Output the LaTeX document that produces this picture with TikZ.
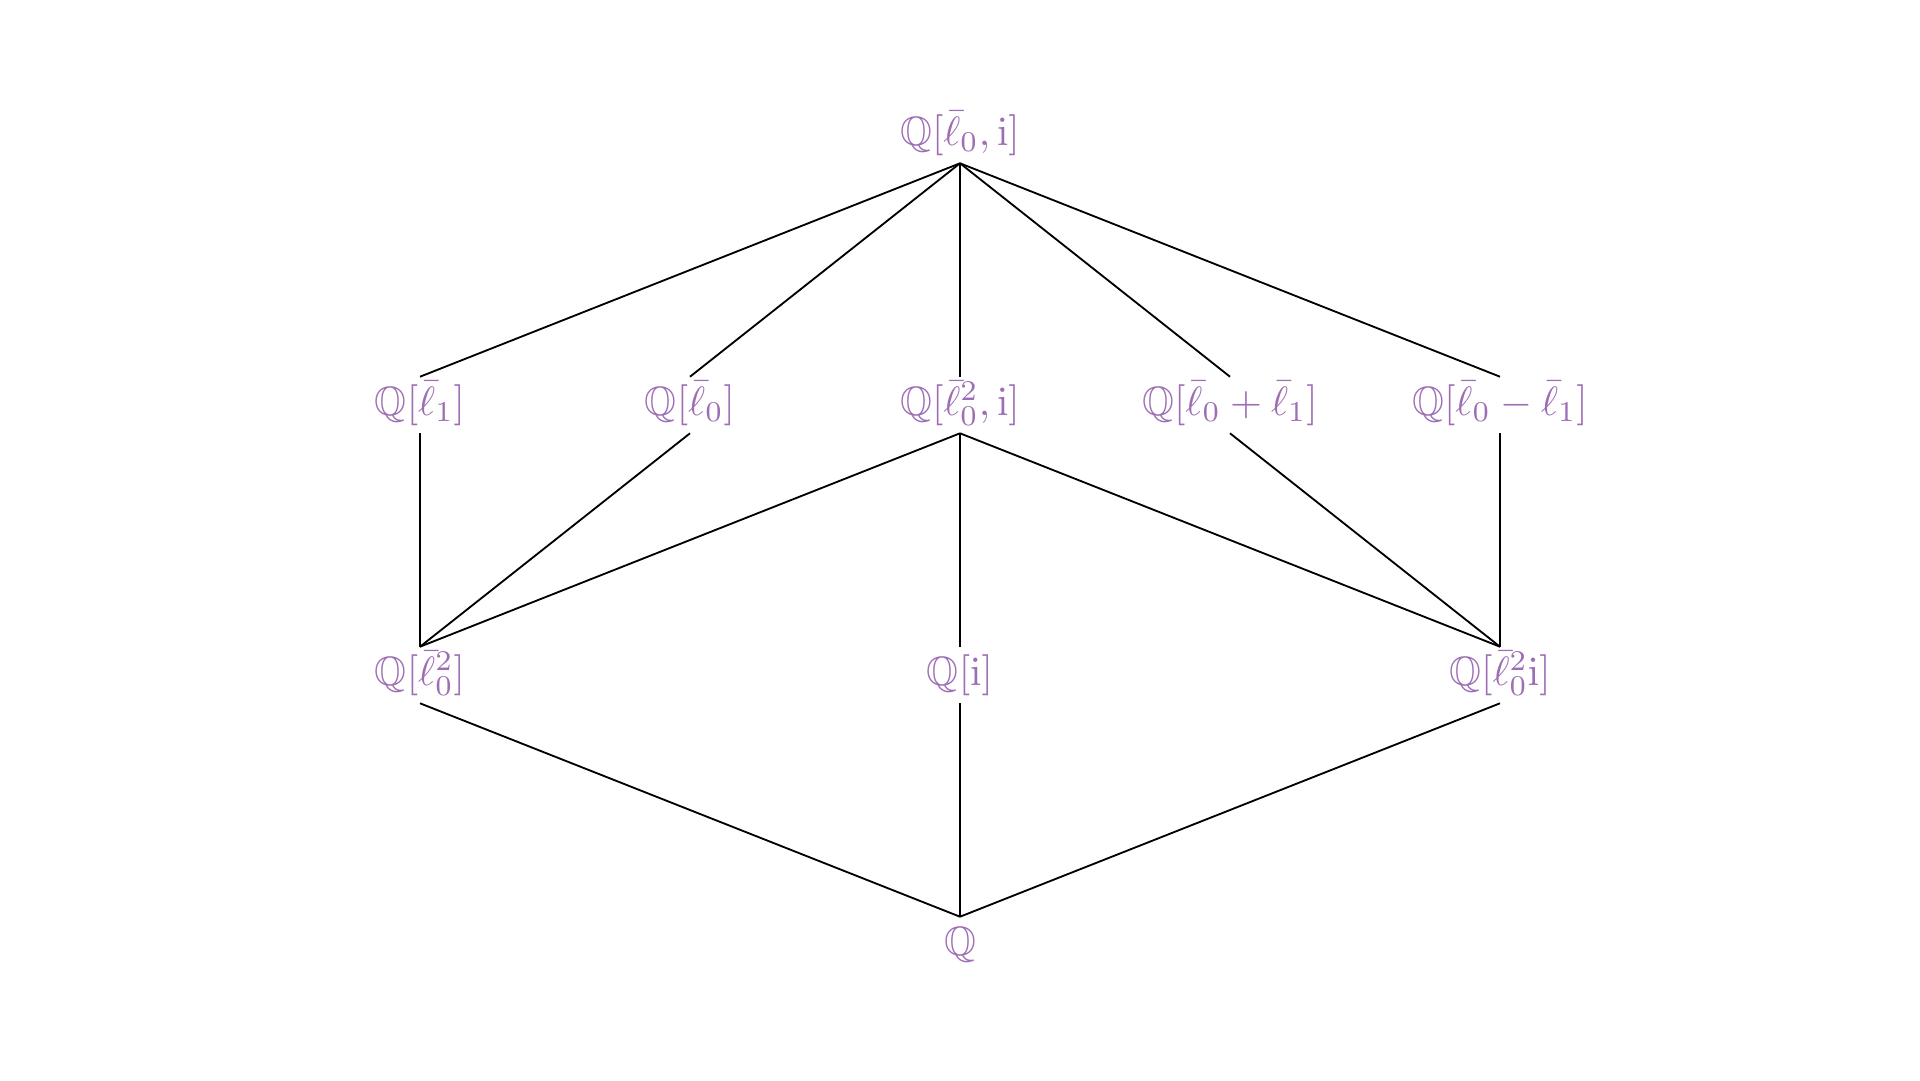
\documentclass[tikz,border=0pt]{standalone}
\usepackage{amsmath,amssymb}
\usepackage{xcolor}
\usepackage{tikz}
\usetikzlibrary{positioning}
\definecolor{fieldpurple}{RGB}{158,110,180}
\tikzset{
  fld/.style  ={text=fieldpurple, inner sep=1.7pt, text height=7.5pt, text depth=2.5pt},
  ln/.style   ={draw=black, line width=0.45pt},
}

\begin{document}
\begin{tikzpicture}[x=65.85pt,y=65.85pt]
\useasboundingbox (-3.5556,-0.5) rectangle (3.5556,3.5);
% ---------- top ----------
\node[fld] (top) at (0,3) {$\mathbb{Q}[\bar\ell_0,\mathrm{i}]$};

% ---------- middle row ----------
\node[fld] (lone)  at (-2,2) {$\mathbb{Q}[\bar\ell_1]$};
\node[fld] (lzero) at (-1,2) {$\mathbb{Q}[\bar\ell_0]$};
\node[fld] (lsqi)  at (0,2)  {$\mathbb{Q}[\bar\ell_0^2,\mathrm{i}]$};
\node[fld] (lsum)  at (1,2)  {$\mathbb{Q}[\bar\ell_0+\bar\ell_1]$};
\node[fld] (ldiff) at (2,2)  {$\mathbb{Q}[\bar\ell_0-\bar\ell_1]$};

% ---------- bottom row ----------
\node[fld] (lsq)   at (-2,1) {$\mathbb{Q}[\bar\ell_0^2]$};
\node[fld] (qi)    at (0,1)  {$\mathbb{Q}[\mathrm{i}]$};
\node[fld] (lsqti) at (2,1)  {$\mathbb{Q}[\bar\ell_0^2\mathrm{i}]$};

\node[fld] (q) at (0,0) {$\mathbb{Q}$};

% ---------- inclusions ----------
\foreach \a/\b in {top/lone, top/lzero, top/lsqi, top/lsum, top/ldiff,
                   lone/lsq, lzero/lsq, lsqi/lsq, lsqi/qi, lsqi/lsqti,
                   lsum/lsqti, ldiff/lsqti,
                   lsq/q, qi/q, lsqti/q}{
  \draw[ln] (\a.south) -- (\b.north);
}
\end{tikzpicture}
\end{document}
